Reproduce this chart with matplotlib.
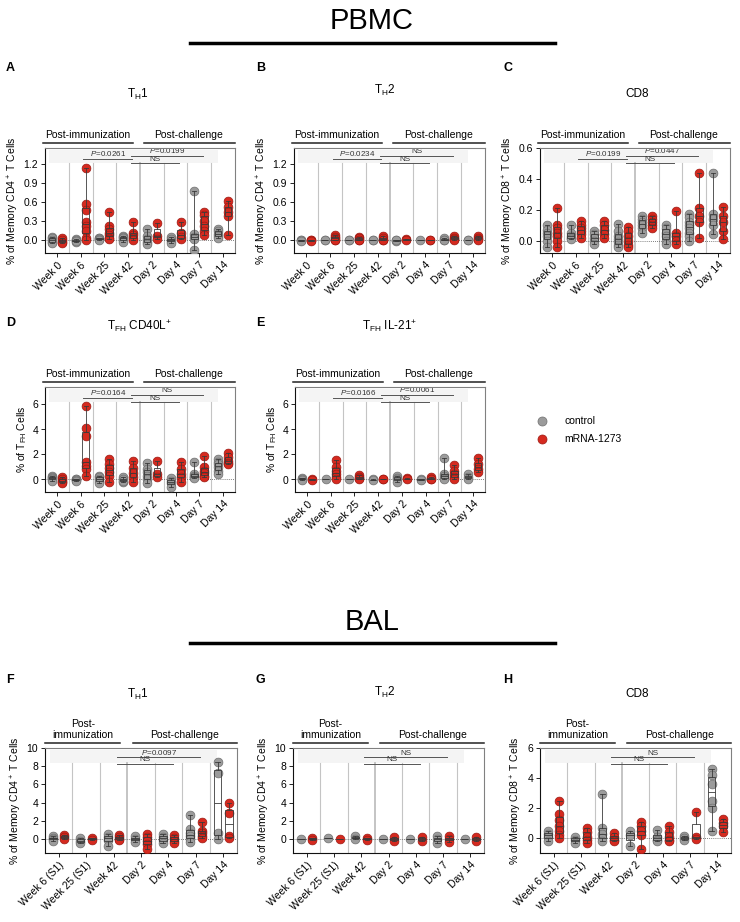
import matplotlib
matplotlib.use('Agg')
import matplotlib.pyplot as plt
import matplotlib.transforms as mtransforms
from matplotlib.lines import Line2D
import numpy as np

plt.rcParams['font.family'] = ['Liberation Sans', 'DejaVu Sans']
plt.rcParams['mathtext.fontset'] = 'custom'
plt.rcParams['mathtext.rm'] = 'Liberation Sans'
plt.rcParams['mathtext.it'] = 'Liberation Sans:italic'
plt.rcParams['mathtext.bf'] = 'Liberation Sans:bold'

# ---- data ----
pbmc_cats = ['Week 0', 'Week 6', 'Week 25', 'Week 42', 'Day 2', 'Day 4', 'Day 7', 'Day 14']
bal_cats = ['Week 6 (S1)', 'Week 25 (S1)', 'Week 42', 'Day 2', 'Day 4', 'Day 7', 'Day 14']

# A: PBMC TH1
a_ctrl = [[0.05, 0.03, 0.0, -0.02, -0.05], [0.02, 0.0, -0.02, -0.01], [0.04, 0.03, 0.02, 0.01],
          [0.07, 0.05, 0.03, 0.0, -0.03], [0.17, 0.06, 0.02, -0.02, -0.06], [0.05, 0.02, -0.01, -0.04],
          [0.78, 0.1, 0.05, 0.02, -0.15], [0.18, 0.14, 0.1, 0.06, 0.03]]
a_mrna = [[0.03, 0.0, -0.02, -0.05], [1.14, 0.57, 0.48, 0.28, 0.23, 0.15, 0.03, 0.0],
          [0.45, 0.22, 0.18, 0.12, 0.08, 0.04, 0.02], [0.29, 0.12, 0.08, 0.03, 0.0],
          [0.27, 0.07, 0.02], [0.28, 0.12, 0.05, 0.02], [0.45, 0.4, 0.3, 0.22, 0.14, 0.09],
          [0.62, 0.52, 0.45, 0.38, 0.09]]

# B: PBMC TH2
b_ctrl = [[0.0, 0.01, -0.01], [0.0, 0.01], [0.0, 0.01], [0.0, 0.01], [0.01, -0.01, 0.0],
          [0.0], [0.03, 0.01, 0.0], [0.01, 0.0]]
b_mrna = [[0.0, 0.01, -0.01], [0.08, 0.05, 0.03, 0.01, 0.0], [0.05, 0.03, 0.01, 0.0],
          [0.06, 0.03, 0.01, 0.0], [0.02, 0.0], [0.0, 0.01], [0.07, 0.04, 0.02, 0.0],
          [0.07, 0.04, 0.02, 0.0]]

# C: PBMC CD8
c_ctrl = [[0.1, 0.07, 0.05, 0.03, 0.0, -0.04], [0.1, 0.05, 0.03, 0.02, 0.01],
          [0.06, 0.04, 0.02, 0.0, -0.02], [0.11, 0.06, 0.03, 0.01, -0.01, -0.03, -0.04],
          [0.16, 0.14, 0.12, 0.1, 0.08, 0.05], [0.1, 0.08, 0.05, 0.03, 0.0, -0.02],
          [0.17, 0.15, 0.12, 0.1, 0.08, 0.05, 0.03, 0.0], [0.44, 0.17, 0.14, 0.1, 0.04]]
c_mrna = [[0.21, 0.1, 0.08, 0.05, 0.03, 0.0, -0.04], [0.13, 0.1, 0.08, 0.06, 0.04, 0.02],
          [0.13, 0.1, 0.07, 0.04, 0.02], [0.09, 0.06, 0.03, 0.0, -0.03, -0.04],
          [0.16, 0.14, 0.12, 0.1, 0.08], [0.19, 0.05, 0.03, 0.0, -0.02],
          [0.44, 0.21, 0.16, 0.12, 0.02], [0.22, 0.16, 0.12, 0.06, 0.01]]

# D: PBMC TFH CD40L+
d_ctrl = [[0.3, 0.2, 0.1, 0.0, -0.1], [0.05, 0.0, -0.05, -0.1], [0.3, 0.2, 0.0, -0.1, -0.3],
          [0.2, 0.0, -0.2, -0.1], [1.3, 0.8, 0.6, 0.3, 0.0, -0.3], [0.1, -0.1, -0.3, -0.6],
          [1.4, 0.4, 0.3, 0.2, 0.1], [1.6, 1.4, 1.2, 1.0, 0.7, 0.4]]
d_mrna = [[0.2, 0.0, -0.1, -0.2, -0.3], [5.85, 4.1, 3.5, 1.4, 1.1, 0.8, 0.3],
          [1.6, 1.2, 0.9, 0.6, 0.3, -0.2], [1.5, 0.9, 0.5, 0.2, -0.2], [1.5, 0.4, 0.2],
          [1.4, 0.8, 0.4, 0.2, -0.2], [1.9, 1.0, 0.7, 0.5, 0.3, 0.2], [2.1, 1.8, 1.5, 1.3, 1.2]]

# E: PBMC TFH IL-21+
e_ctrl = [[0.15, 0.05, -0.05], [0.0], [0.0], [0.0, -0.05], [0.3, 0.15, 0.0, -0.2],
          [0.05, -0.05], [1.7, 0.4, 0.3, 0.1, 0.0], [0.4, 0.2, 0.05]]
e_mrna = [[0.05, -0.05], [1.55, 1.0, 0.7, 0.4, 0.2, 0.05], [0.35, 0.2, 0.1, 0.0], [0.05, 0.0],
          [0.1, 0.0], [0.2, 0.05, 0.0], [1.15, 0.7, 0.45, 0.2, 0.0], [1.75, 1.2, 0.85, 0.6]]

# F: BAL TH1
f_ctrl = [[0.3, 0.1, 0.0, -0.2], [0.1, -0.2, -0.5], [0.5, 0.2, -0.1, -0.8], [0.3, 0.0, -0.3],
          [0.5, 0.2, -0.1, -0.4], [2.6, 1.1, 0.6, 0.3, 0.0, -0.3], [8.5, 7.3, 0.6, 0.0]]
f_mrna = [[0.4, 0.2, 0.0], [0.1, -0.1], [0.4, 0.2, 0.0, -0.1], [0.5, 0.2, -0.2, -0.6, -1.1],
          [0.4, 0.1, -0.2, -0.4], [1.9, 0.9, 0.6, 0.3, 0.1], [3.9, 2.9, 0.3, 0.1]]

# G: BAL TH2
g_ctrl = [[0.0], [0.05], [0.3, 0.0], [0.0], [0.0], [0.3, 0.0, -0.4], [0.0]]
g_mrna = [[0.1, -0.1], [0.0], [0.1, -0.1], [0.2, -0.2], [0.2, -0.2], [0.3, 0.0, -0.3], [0.2, -0.2]]

# H: BAL CD8
h_ctrl = [[0.5, 0.3, 0.1, -0.2], [0.1, -0.1, -0.3], [2.95, 0.65, 0.3, 0.0, -0.2],
          [0.45, 0.2, -0.5], [0.55, 0.1, -0.1, -0.2], [0.15, 0.0, -0.15],
          [4.6, 4.2, 3.6, 2.5, 2.0, 0.5]]
h_mrna = [[2.45, 1.6, 1.2, 0.8, 0.5, 0.2, 0.0], [0.65, 0.4, 0.1, -0.1, -0.3],
          [0.35, 0.1, -0.1, -0.2], [1.1, 0.8, 0.5, 0.2, -0.7], [0.8, 0.4, 0.1, -0.1, -0.2],
          [1.75, 0.1, -0.05], [1.3, 1.0, 0.8, 0.4]]

pbmc_stats = {
    'A': ['$P$=0.0261', '$P$=0.0199', 'NS'],
    'B': ['$P$=0.0234', 'NS', 'NS'],
    'C': ['$P$=0.0199', '$P$=0.0447', 'NS'],
    'D': ['$P$=0.0164', 'NS', 'NS'],
    'E': ['$P$=0.0166', '$P$=0.0061', 'NS'],
}
bal_stats = {
    'F': ['$P$=0.0097', 'NS'],
    'G': ['NS', 'NS'],
    'H': ['NS', 'NS'],
}

GRAY = '#9b9b9b'
GRAY_E = '#6f6f6f'
RED = '#d52a1f'
RED_E = '#9c1912'

W, H = 740, 922
fig = plt.figure(figsize=(W / 100, H / 100), dpi=100)


def rect(l, r, t, b):
    return [l / W, 1 - b / H, (r - l) / W, (b - t) / H]


def draw_panel(pos, cats, ctrl, mrna, ylim, yticks, yfmt, ylabel, stats, bal=False):
    ax = fig.add_axes(rect(*pos))
    n = len(cats)
    trans = mtransforms.blended_transform_factory(ax.transData, ax.transAxes)
    off = 0.21
    # background band and separators
    ax.add_patch(plt.Rectangle((-0.32, 0.855), n - 0.9, 0.13, transform=trans,
                               facecolor='#f4f4f4', edgecolor='none', zorder=0))
    split = 2.5 if bal else 3.5
    for k in range(n - 1):
        x = k + 0.5
        ax.plot([x, x], [0, 0.855], transform=trans, color='#c4c4c4',
                lw=1.4 if x == split else 0.8, zorder=1)
    ax.axhline(0, color='#555555', lw=0.6, ls=(0, (1, 1.5)), zorder=1)

    for vals, dx, fc, ec in [(ctrl, -off, GRAY, GRAY_E), (mrna, off, RED, RED_E)]:
        for i, v in enumerate(vals):
            ax.scatter(np.full(len(v), i + dx), v, s=40, color=fc, edgecolor=ec,
                       linewidth=0.5, zorder=3)
        ax.boxplot(vals, positions=np.arange(n) + dx, widths=0.28, whis=(0, 100),
                   showfliers=False, patch_artist=True, manage_ticks=False,
                   boxprops=dict(facecolor='none', edgecolor='#3a3a3a', linewidth=0.6),
                   medianprops=dict(color='#3a3a3a', linewidth=0.6),
                   whiskerprops=dict(color='#3a3a3a', linewidth=0.6),
                   capprops=dict(color='#3a3a3a', linewidth=0.6), capwidths=0.16,
                   zorder=4)

    # significance lines
    if bal:
        lines = [(2, 5, 0.914), (2, 4, 0.85)]
    else:
        lines = [(1, 3, 0.898), (3, 6, 0.927), (3, 5, 0.856)]
    for (i, j, yy), txt in zip(lines, stats):
        ax.plot([i + 0.12, j + 0.15], [yy, yy], transform=trans, color='#555555',
                lw=0.7, zorder=2, clip_on=False)
        ax.text((i + j) / 2 + 0.14, yy + 0.004, txt, transform=trans, ha='center',
                va='bottom', fontsize=5.8, color='#333333', zorder=2)

    # group brackets
    if bal:
        ax.plot([-0.5, 2.25], [1.05, 1.05], transform=trans, color='#222222', lw=1.1, clip_on=False)
        ax.plot([2.7, 6.5], [1.05, 1.05], transform=trans, color='#222222', lw=1.1, clip_on=False)
        ax.text(0.88, 1.075, 'Post-\nimmunization', transform=trans, ha='center', va='bottom',
                fontsize=7.5, linespacing=1.1)
        ax.text(4.6, 1.075, 'Post-challenge', transform=trans, ha='center', va='bottom', fontsize=7.5)
    else:
        ax.plot([-0.6, 3.2], [1.05, 1.05], transform=trans, color='#222222', lw=1.1, clip_on=False)
        ax.plot([3.65, 7.5], [1.05, 1.05], transform=trans, color='#222222', lw=1.1, clip_on=False)
        ax.text(1.3, 1.075, 'Post-immunization', transform=trans, ha='center', va='bottom', fontsize=7.5)
        ax.text(5.55, 1.075, 'Post-challenge', transform=trans, ha='center', va='bottom', fontsize=7.5)

    ax.set_xlim(-0.5, n - 0.5)
    ax.set_ylim(*ylim)
    ax.set_yticks(yticks)
    ax.set_yticklabels([yfmt.format(t) for t in yticks])
    ax.set_xticks(np.arange(n))
    ax.set_xticklabels(cats, rotation=45, ha='right', rotation_mode='anchor')
    ax.tick_params(labelsize=7.5, length=3, width=0.6, pad=2)
    ax.set_ylabel(ylabel, fontsize=7.5, labelpad=2)
    for s in ['left', 'bottom']:
        ax.spines[s].set_color('#111111')
        ax.spines[s].set_linewidth(0.8)
    for s in ['top', 'right']:
        ax.spines[s].set_color('#808080')
        ax.spines[s].set_linewidth(0.8)
    return ax


cd4 = '% of Memory CD4$^+$ T Cells'
cd8 = '% of Memory CD8$^+$ T Cells'
tfh = '% of T$_{\\mathrm{FH}}$ Cells'

draw_panel((45, 235, 148, 253), pbmc_cats, a_ctrl, a_mrna, (-0.2, 1.45),
           [0, 0.3, 0.6, 0.9, 1.2], '{:.1f}', cd4, pbmc_stats['A'])
draw_panel((294, 485, 148, 253), pbmc_cats, b_ctrl, b_mrna, (-0.2, 1.45),
           [0, 0.3, 0.6, 0.9, 1.2], '{:.1f}', cd4, pbmc_stats['B'])
draw_panel((540, 730, 148, 253), pbmc_cats, c_ctrl, c_mrna, (-0.08, 0.6),
           [0, 0.2, 0.4, 0.6], '{:.1f}', cd8, pbmc_stats['C'])
draw_panel((45, 235, 387, 492), pbmc_cats, d_ctrl, d_mrna, (-1.0, 7.4),
           [0, 2, 4, 6], '{:d}', tfh, pbmc_stats['D'])
draw_panel((295, 485, 387, 492), pbmc_cats, e_ctrl, e_mrna, (-1.0, 7.4),
           [0, 2, 4, 6], '{:d}', tfh, pbmc_stats['E'])
draw_panel((45, 237, 748, 853), bal_cats, f_ctrl, f_mrna, (-1.55, 10),
           [0, 2, 4, 6, 8, 10], '{:d}', cd4, bal_stats['F'], bal=True)
draw_panel((293, 484, 748, 853), bal_cats, g_ctrl, g_mrna, (-1.55, 10),
           [0, 2, 4, 6, 8, 10], '{:d}', cd4, bal_stats['G'], bal=True)
draw_panel((540, 731, 748, 853), bal_cats, h_ctrl, h_mrna, (-1.0, 6),
           [0, 2, 4, 6], '{:d}', cd8, bal_stats['H'], bal=True)


def ftext(x, y, s, **kw):
    fig.text(x / W, 1 - y / H, s, **kw)


def hline(x0, x1, y):
    fig.add_artist(Line2D([x0 / W, x1 / W], [1 - y / H, 1 - y / H], color='black', lw=2.5))


narrow = ['Liberation Sans Narrow', 'Liberation Sans', 'DejaVu Sans']
ftext(372, 21, 'PBMC', ha='center', va='center', fontsize=21, family=narrow)
hline(190, 555, 43)
ftext(372, 622, 'BAL', ha='center', va='center', fontsize=21, family=narrow)
hline(190, 555, 643)

for letter, x, y in [('A', 6, 68), ('B', 256, 68), ('C', 503, 68), ('D', 6, 323), ('E', 256, 323),
                     ('F', 6, 680), ('G', 256, 680), ('H', 503, 680)]:
    ftext(x, y, letter, ha='left', va='center', fontsize=9, fontweight='bold')

titles = [('T$_{\\mathrm{H}}$1', 138, 94), ('T$_{\\mathrm{H}}$2', 385, 90), ('CD8', 637, 94),
          ('T$_{\\mathrm{FH}}$ CD40L$^{+}$', 140, 326), ('T$_{\\mathrm{FH}}$ IL-21$^{+}$', 390, 326),
          ('T$_{\\mathrm{H}}$1', 138, 694), ('T$_{\\mathrm{H}}$2', 385, 692), ('CD8', 637, 694)]
for s, x, y in titles:
    ftext(x, y, s, ha='center', va='center', fontsize=8.5, family=narrow)

handles = [Line2D([], [], ls='none', marker='o', markersize=6.5, markerfacecolor=GRAY,
                  markeredgecolor=GRAY_E, markeredgewidth=0.5, label='control'),
           Line2D([], [], ls='none', marker='o', markersize=6.5, markerfacecolor=RED,
                  markeredgecolor=RED_E, markeredgewidth=0.5, label='mRNA-1273')]
fig.legend(handles=handles, loc='upper left', bbox_to_anchor=(522 / W, 1 - 407 / H),
           frameon=False, fontsize=7.5, handletextpad=1.2, labelspacing=0.75)

fig.savefig('out.png', dpi=100)
